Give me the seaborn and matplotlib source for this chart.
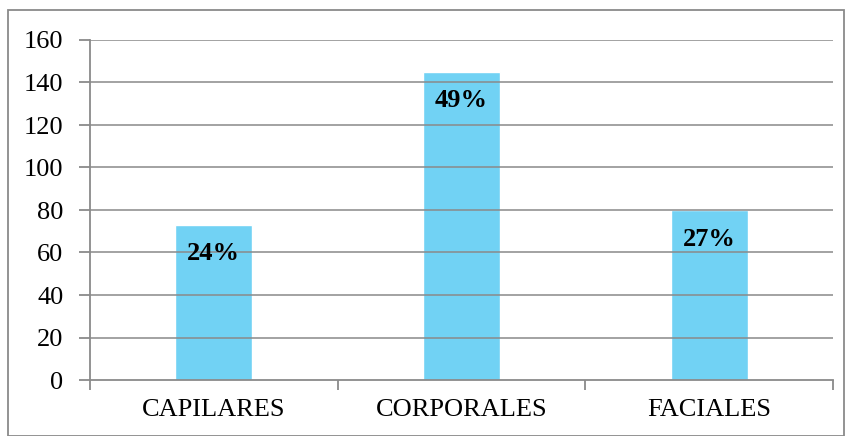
import matplotlib
matplotlib.use("Agg")
import matplotlib.pyplot as plt
import seaborn as sns
import pandas as pd
from matplotlib.patches import Rectangle

categories = ["CAPILARES", "CORPORALES", "FACIALES"]
values = [73, 145, 80]
labels = ["24%", "49%", "27%"]
yticks = [0, 20, 40, 60, 80, 100, 120, 140, 160]

sns.set_theme(style="white")
plt.rcParams['font.family'] = ['Liberation Serif', 'DejaVu Serif']

W, H = 852, 436
fig = plt.figure(figsize=(W / 100, H / 100), dpi=100)
ax = fig.add_axes([90 / W, 1 - 380 / H, (833 - 90) / W, (380 - 40) / H])

df = pd.DataFrame({"cat": categories, "val": values})
sns.barplot(data=df, x="cat", y="val", ax=ax, color="#71D2F4", saturation=1,
            width=0.31, zorder=1)

ax.set_xlim(-0.5, 2.5)
ax.set_ylim(0, 160)
ax.set_yticks(yticks)
ax.set_xlabel("")
ax.set_ylabel("")

gridc = "#8A8A8A"
for y in yticks[1:]:
    ax.axhline(y, color=gridc, lw=1.3, alpha=0.85, zorder=2)

for s in ["top", "right"]:
    ax.spines[s].set_visible(False)
for s in ["left", "bottom"]:
    ax.spines[s].set_color(gridc)
    ax.spines[s].set_linewidth(1.3)
    ax.spines[s].set_zorder(3)

ax.set_xticks([0, 1, 2])
ax.set_xticklabels(categories)
ax.set_xticks([-0.5, 0.5, 1.5, 2.5], minor=True)
ax.tick_params(axis="x", which="major", length=0, labelsize=19, pad=14, colors="black")
ax.tick_params(axis="x", which="minor", length=7, width=1.3, color=gridc, direction="out", bottom=True)
ax.tick_params(axis="y", which="major", length=8, width=1.3, color=gridc, direction="out",
               labelsize=19, pad=11, left=True, labelcolor="black")

for i, (v, lab) in enumerate(zip(values, labels)):
    ax.annotate(lab, xy=(i, v), xytext=(0, -29), textcoords="offset pixels",
                ha="center", va="center", fontsize=19, fontweight="bold", color="black", zorder=5)

fig.patches.append(Rectangle((8 / W, 0.5 / H), (W - 8.5 - 8) / W, (H - 10 - 1) / H,
                             transform=fig.transFigure, fill=False, edgecolor="#8A8A8A", lw=1.3))

fig.savefig("out.png", dpi=100)
